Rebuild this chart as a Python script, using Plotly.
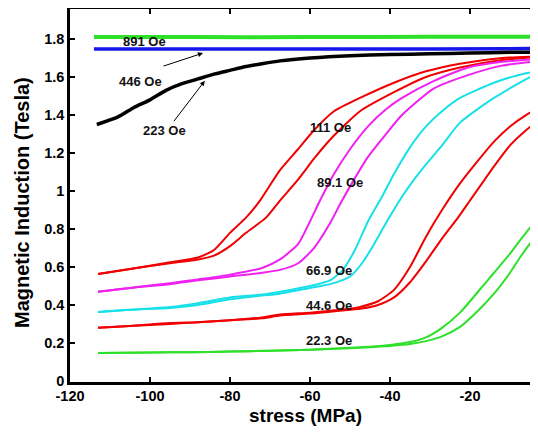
import plotly.graph_objects as go

# ---- data (stress in MPa, induction in Tesla) ----
x_891 = [-114, -90, -60, -30, 0]
b_891 = [1.81, 1.81, 1.81, 1.812, 1.812]

x_446 = [-114, -90, -60, -30, 0]
b_446 = [1.748, 1.748, 1.748, 1.748, 1.75]

x_223 = [-113.3, -108, -104, -100, -96, -92, -88, -84, -80, -76, -72, -67.5, -60, -50, -40, -30, -20, -10, 0]
b_223 = [1.35, 1.39, 1.44, 1.48, 1.53, 1.565, 1.59, 1.615, 1.635, 1.655, 1.67, 1.685, 1.70, 1.712, 1.718, 1.722, 1.726, 1.73, 1.73]

x_111_a = [-113, -105, -95, -88, -84, -80, -76, -72.5, -67.5, -63, -59, -54, -47.5, -39, -31, -22.5, -12, 0]
b_111_a = [0.563, 0.59, 0.625, 0.65, 0.69, 0.78, 0.86, 0.95, 1.11, 1.22, 1.32, 1.42, 1.49, 1.57, 1.63, 1.67, 1.70, 1.71]
x_111_b = [-113, -105, -95, -88, -84, -80, -76, -71, -67.5, -63, -59, -55, -47.5, -39, -31, -22.5, -12, 0]
b_111_b = [0.563, 0.59, 0.62, 0.64, 0.66, 0.71, 0.78, 0.86, 0.95, 1.06, 1.17, 1.27, 1.42, 1.52, 1.60, 1.65, 1.69, 1.71]

x_891b_a = [-113, -105, -95, -88, -80, -72, -67.5, -63, -60, -57.5, -54, -50, -45.5, -41, -37, -29, -20.5, -12, 0]
b_891b_a = [0.47, 0.49, 0.515, 0.535, 0.56, 0.595, 0.64, 0.72, 0.84, 0.95, 1.09, 1.22, 1.34, 1.43, 1.49, 1.58, 1.65, 1.68, 1.70]
x_891b_b = [-113, -105, -95, -88, -80, -72, -67.5, -63, -59, -55, -52.5, -49, -45.5, -41, -37, -29, -20.5, -12, 0]
b_891b_b = [0.47, 0.49, 0.51, 0.53, 0.55, 0.57, 0.585, 0.62, 0.70, 0.83, 0.93, 1.06, 1.18, 1.30, 1.40, 1.54, 1.61, 1.66, 1.69]

x_669_a = [-113, -105, -95, -88, -80, -72, -67.5, -60, -55, -52, -49, -45.5, -42, -39, -35, -31, -27, -22.5, -14, -6, 0]
b_669_a = [0.363, 0.375, 0.39, 0.41, 0.44, 0.455, 0.47, 0.50, 0.53, 0.58, 0.68, 0.84, 0.97, 1.09, 1.23, 1.34, 1.42, 1.49, 1.57, 1.62, 1.64]
x_669_b = [-113, -105, -95, -88, -80, -72, -67.5, -60, -55, -50, -47, -44, -40.5, -37, -34, -31, -27, -22.5, -14, -3, 0]
b_669_b = [0.363, 0.375, 0.385, 0.40, 0.43, 0.45, 0.46, 0.49, 0.51, 0.55, 0.62, 0.72, 0.85, 0.97, 1.06, 1.14, 1.24, 1.36, 1.49, 1.62, 1.63]

x_446b_a = [-113, -105, -95, -88, -80, -72, -67.5, -60, -55, -50, -47.5, -43, -39, -35, -31, -27, -22.5, -18, -14, -10, -6, 0]
b_446b_a = [0.28, 0.29, 0.305, 0.31, 0.32, 0.335, 0.35, 0.36, 0.37, 0.38, 0.39, 0.42, 0.48, 0.60, 0.76, 0.90, 1.04, 1.16, 1.26, 1.34, 1.40, 1.47]
x_446b_b = [-113, -105, -95, -88, -80, -72, -67.5, -60, -55, -50, -47.5, -43, -39, -35, -31, -27, -23, -20, -14, -10, -6, 0]
b_446b_b = [0.28, 0.29, 0.30, 0.31, 0.32, 0.33, 0.345, 0.355, 0.365, 0.375, 0.38, 0.40, 0.44, 0.52, 0.63, 0.75, 0.86, 0.95, 1.13, 1.24, 1.32, 1.42]

x_223b_a = [-113, -100, -90, -80, -70, -60, -50, -45, -40, -35, -31, -27, -22.5, -18, -14, -10, -7.5, -3, 0]
b_223b_a = [0.147, 0.15, 0.152, 0.155, 0.16, 0.165, 0.175, 0.18, 0.19, 0.205, 0.23, 0.28, 0.36, 0.47, 0.57, 0.67, 0.74, 0.86, 0.94]
x_223b_b = [-113, -100, -90, -80, -70, -60, -50, -45, -40, -35, -31, -27, -22.5, -18, -14, -10, -7.5, -3, 0]
b_223b_b = [0.147, 0.15, 0.152, 0.155, 0.16, 0.165, 0.172, 0.178, 0.185, 0.195, 0.21, 0.235, 0.285, 0.37, 0.46, 0.57, 0.65, 0.78, 0.86]

x_ticks = [-120, -100, -80, -60, -40, -20]
x_tick_text = ["-120", "-100", "-80", "-60", "-40", "-20"]
y_ticks = [0, 0.2, 0.4, 0.6, 0.8, 1.0, 1.2, 1.4, 1.6, 1.8]
y_tick_text = ["0", "0.2", "0.4", "0.6", "0.8", "1", "1.2", "1.4", "1.6", "1.8"]

labels = ["891 Oe", "446 Oe", "223 Oe", "111 Oe", "89.1 Oe", "66.9 Oe", "44.6 Oe", "22.3 Oe"]
label_x = [-101.5, -102.5, -96.5, -55, -52.5, -55.2, -55.2, -55.2]
label_y = [1.785, 1.575, 1.32, 1.337, 1.047, 0.584, 0.40, 0.216]

GREEN = "#2ee02a"
BLUE = "#1616e8"
RED = "#f00000"
MAG = "#f020f0"
CYAN = "#18e0e8"

fig = go.Figure()

def add(x, y, color, width=2.0):
    fig.add_trace(go.Scatter(x=x, y=y, mode="lines",
                             line=dict(color=color, width=width, shape="spline", smoothing=0.6),
                             showlegend=False, hoverinfo="skip"))

add(x_891, b_891, GREEN, 4)
add(x_446, b_446, BLUE, 3.5)
add(x_223, b_223, "#000000", 3.5)
add(x_111_a, b_111_a, RED)
add(x_111_b, b_111_b, RED)
add(x_891b_a, b_891b_a, MAG)
add(x_891b_b, b_891b_b, MAG)
add(x_669_a, b_669_a, CYAN)
add(x_669_b, b_669_b, CYAN)
add(x_446b_a, b_446b_a, RED)
add(x_446b_b, b_446b_b, RED)
add(x_223b_a, b_223b_a, GREEN)
add(x_223b_b, b_223b_b, GREEN)

anno_font = dict(family="Arial", size=13, color="#111111", weight="bold")
for t, lx, ly in zip(labels, label_x, label_y):
    fig.add_annotation(x=lx, y=ly, text=t, showarrow=False, font=anno_font)

# arrows for 446 and 223
fig.add_annotation(x=-86.75, y=1.726, ax=-97.0, ay=1.655, axref="x", ayref="y",
                   text="", showarrow=True, arrowhead=2, arrowsize=1, arrowwidth=1,
                   arrowcolor="#000000")
fig.add_annotation(x=-86.3, y=1.58, ax=-94.3, ay=1.36, axref="x", ayref="y",
                   text="", showarrow=True, arrowhead=2, arrowsize=1, arrowwidth=1,
                   arrowcolor="#000000")

# axis titles
fig.add_annotation(xref="paper", yref="paper", x=-0.1043, y=0.48,
                   xanchor="center", yanchor="middle",
                   text="Magnetic Induction (Tesla)", textangle=-90, showarrow=False,
                   font=dict(family="Arial", size=20, color="#000000", weight="bold"))
fig.add_annotation(xref="paper", yref="paper", x=0.513, y=-0.0898,
                   xanchor="center", yanchor="middle",
                   text="stress (MPa)", showarrow=False,
                   font=dict(family="Arial", size=19, color="#000000", weight="bold"))

tickfont = dict(family="Arial", size=14.5, color="#000000", weight="bold")
fig.update_layout(
    width=522, height=418,
    margin=dict(l=62, r=0, t=1, b=44),
    paper_bgcolor="white", plot_bgcolor="white",
    xaxis=dict(range=[-120, -5], tickvals=x_ticks, ticktext=x_tick_text,
               ticks="inside", ticklen=5, tickwidth=1.5, tickcolor="#000",
               ticklabelstandoff=-1,
               showline=True, linewidth=2.5, linecolor="#000", mirror="ticks",
               showgrid=False, zeroline=False, tickfont=tickfont, automargin=False),
    yaxis=dict(range=[-0.005, 1.958], tickvals=y_ticks, ticktext=y_tick_text,
               ticks="inside", ticklen=5, tickwidth=1.5, tickcolor="#000",
               showline=True, linewidth=2.5, linecolor="#000", mirror=False,
               showgrid=False, zeroline=False, tickfont=tickfont, automargin=False),
)

fig.write_html("out.html", config={"displayModeBar": False})
